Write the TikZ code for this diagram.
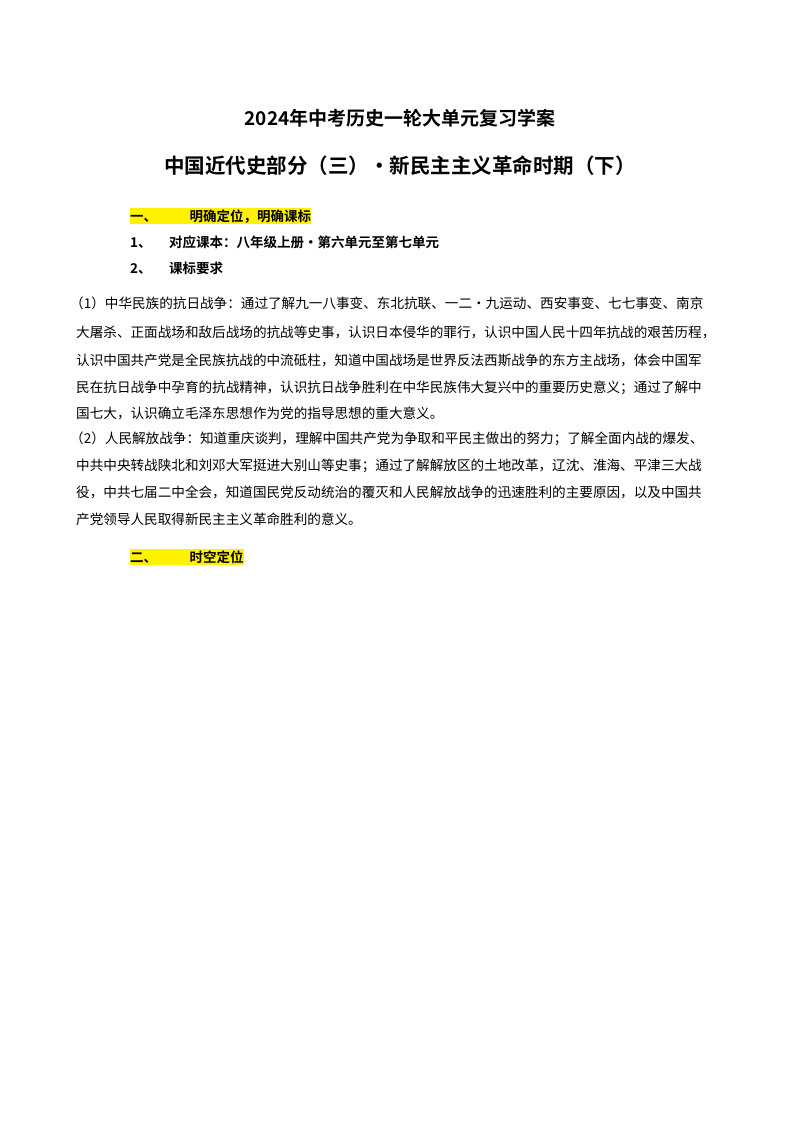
\documentclass[tikz,border=0pt]{standalone}
\usepackage{fontspec}
\setmainfont{Noto Sans CJK SC}[BoldFont={Noto Sans CJK SC Bold}]
\begin{document}
\begin{tikzpicture}[x=1pt,y=-1pt,
  body/.style={anchor=base west,inner sep=0pt,font=\fontsize{13.6}{16}\selectfont},
  head/.style={anchor=base west,inner sep=0pt,font=\bfseries\fontsize{13.5}{15}\selectfont},
  hl/.style={head,fill=yellow,inner ysep=1.5pt},
  title/.style={anchor=base,inner sep=0pt,font=\bfseries}]
\useasboundingbox (0,0) rectangle (800,1132);
\node[title,font=\bfseries\fontsize{19}{22}\selectfont] (t1) at (400,125) {2024年中考历史一轮大单元复习学案};
\node[title,font=\bfseries\fontsize{20.5}{24}\selectfont] (t2) at (400,173) {中国近代史部分（三）·新民主主义革命时期（下）};
\node[hl] (h1) at (130,221) {一、\hspace{2.4em}明确定位，明确课标};
\node[head] (h2) at (130,247) {1、\hspace{1.3em}对应课本：八年级上册·第六单元至第七单元};
\node[head] (h3) at (130,273) {2、\hspace{1.3em}课标要求};
\node[body] (p1) at (70,308) {（1）中华民族的抗日战争：通过了解九一八事变、东北抗联、一二·九运动、西安事变、七七事变、南京};
\node[body] (p2) at (76,337) {大屠杀、正面战场和敌后战场的抗战等史事，认识日本侵华的罪行，认识中国人民十四年抗战的艰苦历程，};
\node[body] (p3) at (76,365) {认识中国共产党是全民族抗战的中流砥柱，知道中国战场是世界反法西斯战争的东方主战场，体会中国军};
\node[body] (p4) at (76,392) {民在抗日战争中孕育的抗战精神，认识抗日战争胜利在中华民族伟大复兴中的重要历史意义；通过了解中};
\node[body] (p5) at (76,418) {国七大，认识确立毛泽东思想作为党的指导思想的重大意义。};
\node[body] (q1) at (70,443) {（2）人民解放战争：知道重庆谈判，理解中国共产党为争取和平民主做出的努力；了解全面内战的爆发、};
\node[body] (q2) at (76,470) {中共中央转战陕北和刘邓大军挺进大别山等史事；通过了解解放区的土地改革，辽沈、淮海、平津三大战};
\node[body] (q3) at (76,497) {役，中共七届二中全会，知道国民党反动统治的覆灭和人民解放战争的迅速胜利的主要原因，以及中国共};
\node[body] (q4) at (76,524) {产党领导人民取得新民主主义革命胜利的意义。};
\node[hl] (h4) at (130,562) {二、\hspace{2.4em}时空定位};
\end{tikzpicture}
\end{document}
